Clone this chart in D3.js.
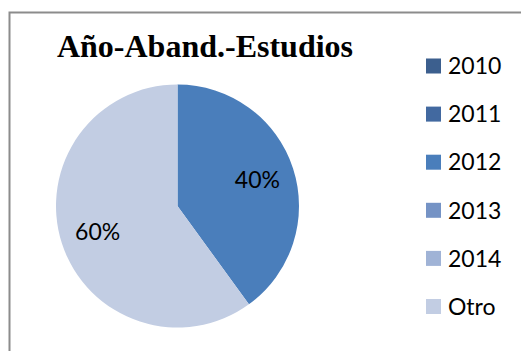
<!DOCTYPE html>
<html><head><meta charset="utf-8">
<script src="https://cdn.jsdelivr.net/npm/d3@7"></script>
<style>html,body{margin:0;padding:0;background:#fff;}svg{display:block;}</style>
</head><body>
<script>
const title = "Año-Aband.-Estudios";
const categories = ["2010","2011","2012","2013","2014","Otro"];
const values = [0, 0, 40, 0, 0, 60];
const colors = ["#3c5f8e","#4269a0","#4a7ebb","#7593c5","#a0b3d6","#c2cde3"];

const W = 521, H = 351;
const svg = d3.select("body").append("svg").attr("width", W).attr("height", H);
svg.append("rect").attr("width", W).attr("height", H).attr("fill", "#fff");

// chart frame
svg.append("path").attr("d", `M9.5,${H+2} V12.5 H${W+2}`)
  .attr("fill", "none").attr("stroke", "#8c8c8c").attr("stroke-width", 2);

svg.append("text").attr("x", 205).attr("y", 57).attr("text-anchor", "middle")
  .attr("font-family", "'Liberation Serif', 'Times New Roman', serif")
  .attr("font-weight", "bold").attr("font-size", 32).attr("fill", "#000").text(title);

const cx = 177.5, cy = 206, R = 121.5, labelR = 84;
const data = categories.map((c, i) => ({cat: c, value: values[i], color: colors[i]}));
const pie = d3.pie().sort(null).value(d => d.value);
const arcs = pie(data);
const arc = d3.arc().innerRadius(0).outerRadius(R);
const labelArc = d3.arc().innerRadius(labelR).outerRadius(labelR);
const g = svg.append("g").attr("transform", `translate(${cx},${cy})`);
g.selectAll("path").data(arcs.filter(a => a.data.value > 0)).join("path")
  .attr("d", arc).attr("fill", d => d.data.color);
const total = d3.sum(values);
g.selectAll("text").data(arcs.filter(a => a.data.value > 0)).join("text")
  .attr("transform", d => `translate(${labelArc.centroid(d)})`)
  .attr("text-anchor", "middle").attr("dy", "0.35em")
  .attr("font-family", "Lato, 'Open Sans', sans-serif").attr("font-size", 23).attr("fill", "#000")
  .text(d => Math.round(d.data.value / total * 100) + "%");

const ly = d3.scalePoint().domain(categories).range([66, 306.5]);
const lg = svg.append("g");
const items = lg.selectAll("g").data(data).join("g")
  .attr("transform", d => `translate(426,${ly(d.cat)})`);
items.append("rect").attr("x", 0).attr("y", -7.5).attr("width", 15).attr("height", 15)
  .attr("fill", d => d.color);
items.append("text").attr("x", 22).attr("dy", "0.36em")
  .attr("font-family", "Lato, 'Open Sans', sans-serif").attr("font-size", 23).attr("fill", "#000")
  .text(d => d.cat);
</script>
</body></html>
